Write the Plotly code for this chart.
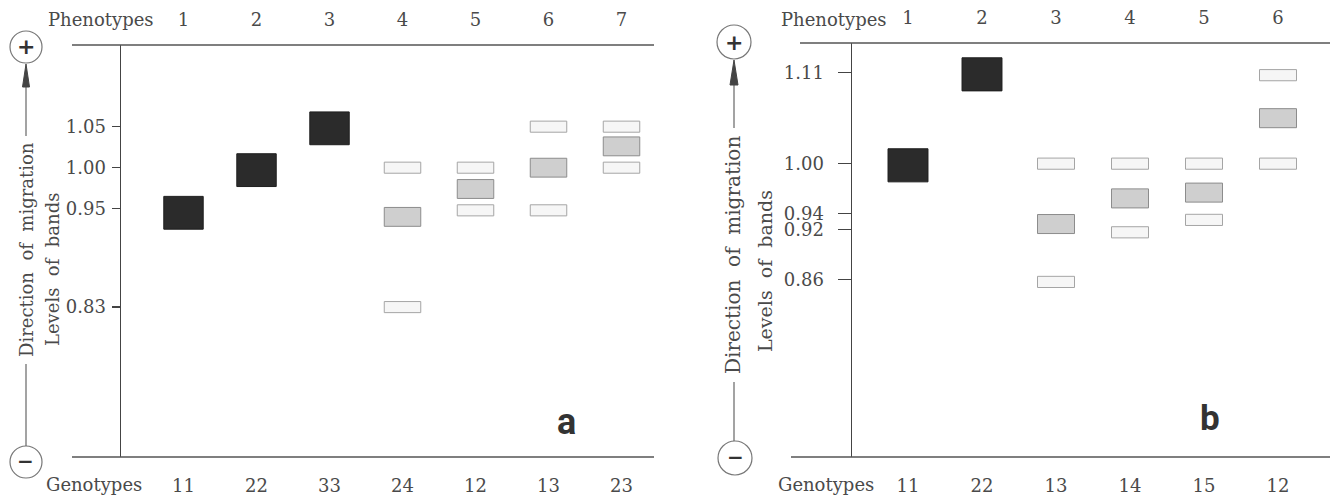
import plotly.graph_objects as go

# ---------------- data ----------------
# Panel a
pheno_a = ["1", "2", "3", "4", "5", "6", "7"]
geno_a = ["11", "22", "33", "24", "12", "13", "23"]
ticks_a = [1.05, 1.00, 0.95, 0.83]
a_dark_pos = [1, 2, 3]
a_dark_lvl = [0.945, 0.997, 1.048]
a_gray_pos = [4, 5, 6, 7]
a_gray_lvl = [0.940, 0.974, 1.000, 1.026]
a_light_pos = [4, 4, 5, 5, 6, 6, 7, 7]
a_light_lvl = [1.00, 0.83, 1.00, 0.948, 1.05, 0.948, 1.05, 1.00]

# Panel b
pheno_b = ["1", "2", "3", "4", "5", "6"]
geno_b = ["11", "22", "13", "14", "15", "12"]
ticks_b = [1.11, 1.00, 0.94, 0.92, 0.86]
b_dark_pos = [1, 2]
b_dark_lvl = [0.998, 1.108]
b_gray_pos = [3, 4, 5, 6]
b_gray_lvl = [0.927, 0.958, 0.965, 1.055]
b_light_pos = [3, 3, 4, 4, 5, 5, 6, 6]
b_light_lvl = [1.00, 0.857, 1.00, 0.917, 1.00, 0.932, 1.107, 1.00]

# ---------------- styling helpers ----------------
W, H = 1339, 496
def px(x):
    return x / W
def py(y):
    return 1 - y / H

SERIF = "DejaVu Serif"
TXT = "#4a4a4a"
LINE = "#444444"

STYLES = {
    "dark": dict(h=0.040, w=0.54, fill="#2b2b2b", edge="#1e1e1e"),
    "gray": dict(h=0.023, w=0.50, fill="#cfcfcf", edge="#8c8c8c"),
    "light": dict(h=0.0135, w=0.50, fill="#f6f6f6", edge="#a5a5a5"),
}

fig = go.Figure()

def add_bands(pos, lvl, kind, xa, ya):
    s = STYLES[kind]
    fig.add_trace(go.Bar(
        x=pos, y=[s["h"]] * len(pos), base=[v - s["h"] / 2 for v in lvl],
        width=s["w"], xaxis=xa, yaxis=ya,
        marker=dict(color=s["fill"], line=dict(color=s["edge"], width=1)),
        showlegend=False, hoverinfo="skip"))

add_bands(a_dark_pos, a_dark_lvl, "dark", "x", "y")
add_bands(a_gray_pos, a_gray_lvl, "gray", "x", "y")
add_bands(a_light_pos, a_light_lvl, "light", "x", "y")
add_bands(b_dark_pos, b_dark_lvl, "dark", "x2", "y2")
add_bands(b_gray_pos, b_gray_lvl, "gray", "x2", "y2")
add_bands(b_light_pos, b_light_lvl, "light", "x2", "y2")

# invisible traces so the top (phenotype) axes render
for xa, ya in (("x3", "y"), ("x4", "y2")):
    fig.add_trace(go.Scatter(x=[1], y=[1], xaxis=xa, yaxis=ya, mode="markers",
                             marker=dict(opacity=0), showlegend=False, hoverinfo="skip"))

tickfont = dict(family=SERIF, size=18, color=TXT)

xr_a = [0.1438, 7.445]
xr_b = [0.2432, 6.7027]
yr_a = [0.6472, 1.1496]
yr_b = [0.6453, 1.1459]

common_x = dict(showgrid=False, zeroline=False, showline=False, ticks="",
                tickfont=tickfont, fixedrange=True)
common_y = dict(showgrid=False, zeroline=False, showline=True, linecolor=LINE,
                linewidth=1.5, ticks="outside", tickcolor=LINE, tickwidth=1.2,
                tickfont=tickfont, fixedrange=True)

fig.update_layout(
    width=W, height=H, margin=dict(l=0, r=0, t=0, b=0),
    paper_bgcolor="white", plot_bgcolor="white", barmode="overlay",
    showlegend=False,
    xaxis=dict(domain=[px(121), px(654)], range=xr_a, anchor="y",
               tickvals=list(range(1, 8)), ticktext=geno_a,
               ticklabelstandoff=16, **common_x),
    xaxis3=dict(overlaying="x", side="top", anchor="y", range=xr_a,
                tickvals=list(range(1, 8)), ticktext=pheno_a,
                ticklabelstandoff=14, **common_x),
    yaxis=dict(domain=[py(457), py(45)], range=yr_a, anchor="x",
               tickvals=ticks_a, ticktext=[f"{v:.2f}" for v in ticks_a],
               ticklen=8, ticklabelstandoff=2, **common_y),
    xaxis2=dict(domain=[px(852), px(1330)], range=xr_b, anchor="y2",
                tickvals=list(range(1, 7)), ticktext=geno_b,
                ticklabelstandoff=16, **common_x),
    xaxis4=dict(overlaying="x2", side="top", anchor="y2", range=xr_b,
                tickvals=list(range(1, 7)), ticktext=pheno_b,
                ticklabelstandoff=14, **common_x),
    yaxis2=dict(domain=[py(457), py(43)], range=yr_b, anchor="x2",
                tickvals=ticks_b, ticktext=[f"{v:.2f}" for v in ticks_b],
                ticklen=13, ticklabelstandoff=10, **common_y),
)

shapes = []
def hline(x0, x1, y):
    shapes.append(dict(type="line", xref="paper", yref="paper",
                       x0=px(x0), x1=px(x1), y0=py(y), y1=py(y),
                       line=dict(color="#555555", width=1.5)))
def vline(x, y0, y1, color="#666666", width=1.2):
    shapes.append(dict(type="line", xref="paper", yref="paper",
                       x0=px(x), x1=px(x), y0=py(y0), y1=py(y1),
                       line=dict(color=color, width=width)))
def circle(cx, cy, r):
    shapes.append(dict(type="circle", xref="paper", yref="paper",
                       x0=px(cx - r), x1=px(cx + r), y0=py(cy + r), y1=py(cy - r),
                       line=dict(color="#777777", width=1.2), fillcolor="white"))
def arrowhead(cx, tip, base, half):
    path = (f"M {px(cx)},{py(tip)} L {px(cx - half)},{py(base)} "
            f"L {px(cx + half)},{py(base)} Z")
    shapes.append(dict(type="path", xref="paper", yref="paper", path=path,
                       fillcolor="#444444", line=dict(color="#444444", width=1)))

# panel a frame lines
hline(72, 654, 45)
hline(72, 654, 457)
# panel b frame lines
hline(800, 1330, 43)
hline(791, 1330, 457)

# direction-of-migration indicators
circle(26, 47, 16)
circle(26, 462, 16)
vline(26, 86, 136)
arrowhead(26, 64, 87, 3.5)
vline(26, 364, 446)

circle(734, 42, 17)
circle(735, 458, 17)
vline(734, 84, 128)
arrowhead(734, 60, 85, 4)
vline(734, 382, 441)

fig.update_layout(shapes=shapes)

ann = []
def text(x, y, s, size=18, angle=0, family=SERIF, color=TXT, bold=False, xanchor="center"):
    ann.append(dict(x=px(x), y=py(y), xref="paper", yref="paper", text=s,
                    showarrow=False, textangle=angle, xanchor=xanchor, yanchor="middle",
                    font=dict(family=family, size=size, color=color,
                              weight="bold" if bold else "normal")))

text(101, 20, "Phenotypes")
text(94, 484, "Genotypes")
text(834, 20, "Phenotypes")
text(826, 484, "Genotypes")

text(26, 250, "Direction  of  migration", size=18, angle=-90)
text(52, 269, "Levels  of  bands", size=18, angle=-90)
text(733, 255, "Direction  of  migration", size=20, angle=-90)
text(765, 271, "Levels  of  bands", size=19, angle=-90)

text(26, 47, "+", size=22, family="DejaVu Sans", color="#333333", bold=True)
text(26, 461, "\u2212", size=20, family="DejaVu Sans", color="#333333", bold=True)
text(734, 42, "+", size=22, family="DejaVu Sans", color="#333333", bold=True)
text(735, 457, "\u2212", size=20, family="DejaVu Sans", color="#333333", bold=True)

LETTER_FONT = "Roboto, sans-serif"
text(566, 422, "a", size=36, family=LETTER_FONT, color="#333333", bold=True)
text(1210, 418, "b", size=35, family=LETTER_FONT, color="#333333", bold=True)

fig.update_layout(annotations=ann)

fig.write_html(
    "out.html",
    config={"displayModeBar": False, "staticPlot": True},
    post_script="document.body.style.margin='0';document.body.style.padding='0';"
                "document.body.style.overflow='hidden';",
)
